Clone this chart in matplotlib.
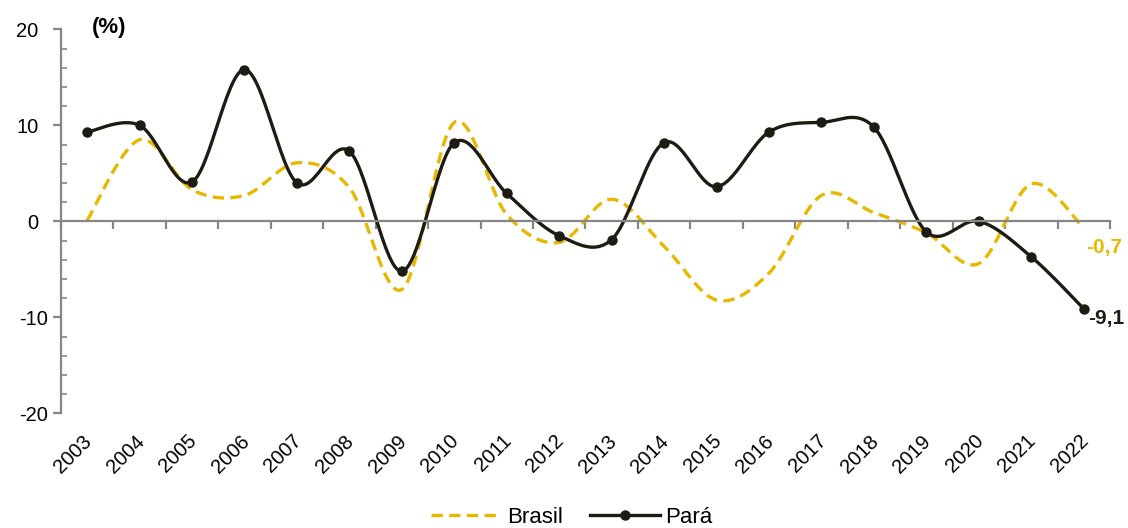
import numpy as np
import matplotlib
matplotlib.use("Agg")
import matplotlib.pyplot as plt
from matplotlib.lines import Line2D
from matplotlib.transforms import ScaledTranslation

plt.rcParams['font.family'] = ['Liberation Sans', 'DejaVu Sans']
plt.rcParams['axes.unicode_minus'] = False

# data (annual change, %)
years = [str(y) for y in range(2003, 2023)]
brasil = [0.1, 8.5, 3.3, 2.7, 6.1, 3.5, -7.1, 10.3, 0.7, -2.2,
          2.3, -2.6, -8.2, -5.4, 2.7, 0.9, -1.2, -4.4, 3.9, -0.7]
para = [9.3, 10.0, 4.1, 15.8, 4.0, 7.3, -5.2, 8.2, 2.9, -1.5,
        -1.9, 8.2, 3.6, 9.3, 10.3, 9.8, -1.1, 0.0, -3.7, -9.1]
yticks = [-20, -10, 0, 10, 20]

yellow = '#E6B800'
dark = '#1E1C12'
gray = '#868686'


def smooth(x, y, n=30):
    # Catmull-Rom style bezier, like the "smoothed line" option in spreadsheets
    x = np.asarray(x, float)
    y = np.asarray(y, float)
    px = np.concatenate([[x[0]], x, [x[-1]]])
    py = np.concatenate([[y[0]], y, [y[-1]]])
    xs, ys = [], []
    t = np.linspace(0, 1, n)
    for i in range(1, len(px) - 2):
        p0 = np.array([px[i], py[i]])
        p3 = np.array([px[i + 1], py[i + 1]])
        c1 = p0 + (np.array([px[i + 1], py[i + 1]]) - np.array([px[i - 1], py[i - 1]])) / 6
        c2 = p3 - (np.array([px[i + 2], py[i + 2]]) - np.array([px[i], py[i]])) / 6
        b = ((1 - t) ** 3)[:, None] * p0 + (3 * (1 - t) ** 2 * t)[:, None] * c1 \
            + (3 * (1 - t) * t ** 2)[:, None] * c2 + (t ** 3)[:, None] * p3
        xs.extend(b[:, 0])
        ys.extend(b[:, 1])
    return np.array(xs), np.array(ys)


fig = plt.figure(figsize=(11.28, 5.28), dpi=100)
ax = fig.add_axes([0.054, 0.2172, 0.93, 0.7273])

xi = np.arange(len(years))

bx, by = smooth(xi, brasil)
ax.plot(bx, by, color=yellow, lw=2.4, dashes=(3.4, 1.9))

pxs, pys = smooth(xi, para)
ax.plot(pxs, pys, color=dark, lw=2.4)
ax.plot(xi, para, 'o', color=dark, ms=6.5)

ax.set_xlim(-0.5, len(years) - 0.5)
ax.set_ylim(-20, 20)

for s in ['top', 'right']:
    ax.spines[s].set_visible(False)
ax.spines['bottom'].set_position(('data', 0))
ax.spines['bottom'].set_color(gray)
ax.spines['left'].set_color(gray)
ax.spines['bottom'].set_linewidth(1.6)
ax.spines['left'].set_linewidth(1.6)

ax.set_yticks(yticks)
ax.set_yticklabels([str(v) for v in yticks])
ax.set_yticks(np.arange(-20, 21, 2), minor=True)
ax.tick_params(axis='y', which='major', direction='out', length=6, width=1.6,
               color=gray, labelsize=14.5, pad=10)
ax.tick_params(axis='y', which='minor', direction='in', length=4, width=1.2, color=gray)
# negative labels sit closer to the axis (number format padding on positives)
for lbl, v in zip(ax.get_yticklabels(), yticks):
    if v < 0:
        lbl.set_transform(lbl.get_transform() + ScaledTranslation(0.09, 0, fig.dpi_scale_trans))

ax.set_xticks(np.arange(-0.5, len(years), 1.0))
ax.set_xticklabels([])
ax.tick_params(axis='x', which='major', direction='out', length=6, width=1.6, color=gray)

secax = ax.secondary_xaxis(0.0)
secax.set_xticks(xi)
secax.set_xticklabels(years, rotation=45, ha='right', rotation_mode='anchor', fontsize=14.5)
secax.tick_params(axis='x', length=0, pad=13)
secax.spines['bottom'].set_visible(False)
for lbl in secax.get_xticklabels():
    lbl.set_transform(lbl.get_transform() + ScaledTranslation(-0.05, 0, fig.dpi_scale_trans))

ax.annotate('(%)', xy=(0.046, 1.005), xycoords='axes fraction', ha='center', va='center',
            fontsize=16, fontweight='bold')
ax.annotate('-0,7', xy=(xi[-1], brasil[-1]), xytext=(2, -14), textcoords='offset points',
            ha='left', va='center', fontsize=15, fontweight='bold', color=yellow)
ax.annotate('-9,1', xy=(xi[-1], para[-1]), xytext=(3, -7), textcoords='offset points',
            ha='left', va='center', fontsize=15, fontweight='bold', color=dark)

handles = [Line2D([], [], color=yellow, lw=2.4, dashes=(3.4, 1.9)),
           Line2D([], [], color=dark, lw=2.4, marker='o', ms=6.5)]
fig.legend(handles, ['Brasil', 'Pará'], loc='center', bbox_to_anchor=(0.507, 0.02),
           ncol=2, frameon=False, fontsize=16, handlelength=3.15,
           handletextpad=0.25, columnspacing=1.2)

fig.savefig('out.png', dpi=100)
